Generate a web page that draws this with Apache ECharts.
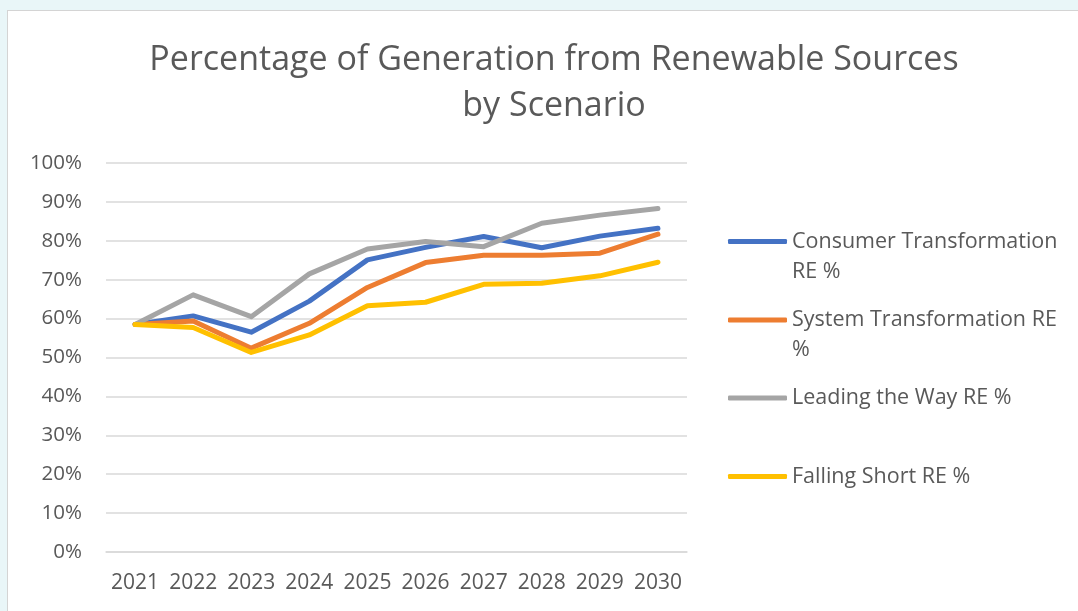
<!DOCTYPE html>
<html>
<head>
<meta charset="utf-8">
<script src="https://cdn.jsdelivr.net/npm/echarts@6/dist/echarts.min.js"></script>
<style>
  html, body { margin: 0; padding: 0; background: #e9f6f8; }
  #frame { position: absolute; left: 7px; top: 10px; width: 1100px; height: 640px; background: #ffffff; border: 1px solid #d4d4d4; box-sizing: border-box; }
  #chart { position: absolute; left: 0; top: 0; width: 1078px; height: 611px; }
</style>
</head>
<body>
<div id="frame"></div>
<div id="chart"></div>
<script>
const years = ['2021','2022','2023','2024','2025','2026','2027','2028','2029','2030'];
const consumerTransformation = [58.5, 60.7, 56.5, 64.5, 75.1, 78.3, 81.1, 78.2, 81.2, 83.2];
const systemTransformation   = [58.5, 59.4, 52.4, 58.8, 68.0, 74.4, 76.3, 76.3, 76.8, 81.7];
const leadingTheWay          = [58.5, 66.1, 60.5, 71.5, 77.9, 79.8, 78.5, 84.5, 86.6, 88.3];
const fallingShort           = [58.5, 57.7, 51.3, 55.8, 63.3, 64.2, 68.8, 69.1, 71.0, 74.5];
const seriesNames = ['Consumer Transformation RE %', 'System Transformation RE %', 'Leading the Way RE %', 'Falling Short RE %'];
const legendLabels = ['Consumer Transformation\nRE %', 'System Transformation RE\n%', 'Leading the Way RE %', 'Falling Short RE %'];
const colors = ['#4472c4', '#ed7d31', '#a5a5a5', '#ffc000'];
const titleText = 'Percentage of Generation from Renewable Sources\nby Scenario';

const FONT = 'Open Sans';
const TXT = '#595959';
const values = [consumerTransformation, systemTransformation, leadingTheWay, fallingShort];

// icon centre y of each legend entry
const legendIconY = [241.5, 320, 398, 476.5];
const legends = seriesNames.map((n, i) => {
  const twoLine = legendLabels[i].indexOf('\n') >= 0;
  // for two-line labels prepend an empty line so the first text line sits beside the icon
  const label = twoLine ? '\n' + legendLabels[i] : legendLabels[i];
  const halfH = twoLine ? 45 : 15;
  return {
    data: [n],
    left: 728,
    top: legendIconY[i] - halfH,
    padding: 0,
    itemWidth: 59,
    itemHeight: 5,
    icon: 'roundRect',
    selectedMode: false,
    formatter: () => label,
    textStyle: { fontFamily: FONT, fontSize: 21.5, color: TXT, lineHeight: 30 }
  };
});

const chart = echarts.init(document.getElementById('chart'), null, { renderer: 'canvas' });
chart.setOption({
  backgroundColor: 'transparent',
  animation: false,
  title: {
    text: titleText,
    left: 549,
    top: 32,
    textAlign: 'center',
    textStyle: { fontFamily: FONT, fontWeight: 400, fontSize: 34, color: TXT, lineHeight: 46 }
  },
  legend: legends,
  grid: { left: 106, right: 391, top: 163, bottom: 59, containLabel: false },
  xAxis: {
    type: 'category',
    data: years,
    boundaryGap: true,
    axisLine: { show: true, lineStyle: { color: '#d9d9d9', width: 1.5 } },
    axisTick: { show: false },
    axisLabel: { interval: 0, fontFamily: FONT, fontSize: 21, color: TXT, margin: 21 }
  },
  yAxis: {
    type: 'value',
    min: 0, max: 100, interval: 10,
    axisLine: { show: false },
    axisTick: { show: false },
    splitLine: { lineStyle: { color: '#d9d9d9', width: 1.5 } },
    axisLabel: { fontFamily: FONT, fontSize: 20.5, color: TXT, margin: 24, formatter: v => v + '%' }
  },
  series: seriesNames.map((n, i) => ({
    name: n,
    type: 'line',
    data: values[i],
    symbol: 'none',
    color: colors[i],
    lineStyle: { width: 5, color: colors[i], cap: 'round', join: 'round' },
    z: 2
  }))
});
</script>
</body>
</html>
